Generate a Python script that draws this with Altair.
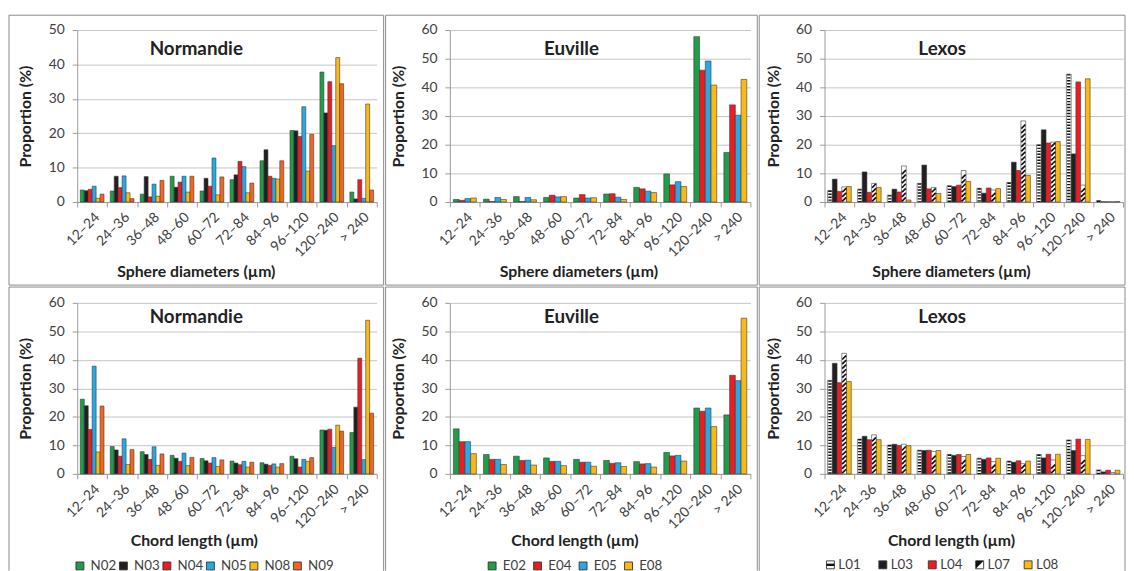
import altair as alt
import numpy as np
import pandas as pd

# ---------------- data ----------------
categories = ["12–24", "24–36", "36–48", "48–60", "60–72", "72–84",
              "84–96", "96–120", "120–240", "> 240"]

n_series = ["N02", "N03", "N04", "N05", "N08", "N09"]
e_series = ["E02", "E04", "E05", "E08"]
l_series = ["L01", "L03", "L04", "L07", "L08"]

n_colors = ["#1e9e48", "#231f20", "#ed1c24", "#27a9e1", "#fdb913", "#f26522"]
e_colors = ["#1e9e48", "#ed1c24", "#27a9e1", "#fdb913"]
l_colors = ["#ffffff", "#231f20", "#ed1c24", "#ffffff", "#fdb913"]

y_ticks_50 = [0, 10, 20, 30, 40, 50]
y_ticks_60 = [0, 10, 20, 30, 40, 50, 60]

# Sphere diameters - Normandie
sph_N02 = [3.5, 3.2, 2.3, 7.5, 3.2, 6.5, 12.0, 20.8, 37.8, 2.9]
sph_N03 = [3.3, 7.5, 7.4, 4.3, 6.9, 7.9, 15.2, 20.7, 25.9, 0.9]
sph_N04 = [3.7, 4.2, 1.5, 5.8, 4.6, 11.8, 7.5, 19.1, 35.0, 6.5]
sph_N05 = [4.6, 7.6, 5.2, 7.5, 12.8, 10.3, 6.9, 27.7, 16.4, 1.1]
sph_N08 = [1.1, 2.7, 1.7, 2.9, 2.1, 2.7, 6.7, 9.0, 42.0, 28.5]
sph_N09 = [2.3, 1.0, 6.3, 7.5, 7.3, 5.5, 12.0, 19.7, 34.4, 3.5]

# Sphere diameters - Euville
sph_E02 = [0.9, 1.0, 1.9, 1.6, 1.4, 2.8, 5.1, 9.8, 57.7, 17.3]
sph_E04 = [0.6, 0.2, 0.2, 2.4, 2.6, 2.9, 4.6, 6.0, 46.0, 33.9]
sph_E05 = [1.2, 1.6, 1.6, 1.8, 1.4, 1.7, 3.8, 7.1, 49.2, 30.3]
sph_E08 = [1.4, 0.9, 0.8, 1.9, 1.5, 0.9, 3.3, 5.4, 40.8, 42.8]

# Sphere diameters - Lexos
sph_L01 = [4.0, 4.5, 2.4, 6.5, 5.7, 4.8, 6.8, 20.0, 44.6, 0.5]
sph_L03 = [8.0, 10.5, 4.5, 12.9, 5.4, 3.1, 13.9, 25.2, 16.8, 0.1]
sph_L04 = [3.7, 3.4, 3.5, 4.6, 5.9, 4.9, 11.0, 20.6, 41.9, 0.1]
sph_L07 = [5.3, 6.5, 12.6, 5.1, 11.0, 4.2, 28.3, 20.9, 5.9, 0.1]
sph_L08 = [5.4, 5.1, 0.7, 3.0, 7.2, 4.7, 9.3, 21.1, 43.0, 0.2]

# Chord length - Normandie
chd_N02 = [26.2, 9.6, 7.8, 6.5, 5.4, 4.5, 3.9, 6.2, 15.4, 14.5]
chd_N03 = [23.9, 8.4, 6.8, 5.5, 4.6, 3.8, 3.4, 5.3, 15.3, 23.4]
chd_N04 = [15.6, 6.2, 5.1, 4.4, 3.8, 3.2, 3.0, 2.4, 15.7, 40.6]
chd_N05 = [37.8, 12.3, 9.5, 7.3, 5.7, 4.4, 3.5, 5.1, 9.3, 5.0]
chd_N08 = [7.7, 3.3, 3.0, 2.9, 2.6, 2.4, 2.4, 4.4, 17.1, 53.9]
chd_N09 = [23.8, 8.5, 7.0, 5.8, 4.9, 4.1, 3.6, 5.7, 15.0, 21.3]

# Chord length - Euville
chd_E02 = [15.8, 6.8, 6.2, 5.6, 5.1, 4.7, 4.3, 7.5, 23.1, 20.7]
chd_E04 = [11.3, 5.1, 4.7, 4.4, 4.1, 3.7, 3.5, 6.3, 22.0, 34.6]
chd_E05 = [11.3, 5.1, 4.8, 4.4, 4.1, 3.9, 3.6, 6.5, 23.1, 32.7]
chd_E08 = [7.1, 3.3, 3.1, 2.9, 2.7, 2.6, 2.4, 4.5, 16.6, 54.6]

# Chord length - Lexos
chd_L01 = [32.8, 12.2, 10.1, 8.3, 6.8, 5.5, 4.5, 6.8, 11.9, 1.4]
chd_L03 = [38.8, 13.2, 10.4, 8.2, 6.5, 5.1, 4.1, 5.6, 8.2, 0.7]
chd_L04 = [32.0, 12.0, 10.0, 8.3, 6.8, 5.6, 4.6, 6.9, 12.2, 1.3]
chd_L07 = [42.3, 13.7, 10.4, 7.9, 6.1, 4.3, 3.6, 4.9, 6.4, 0.5]
chd_L08 = [32.4, 12.0, 9.9, 8.2, 6.8, 5.5, 4.5, 6.9, 12.1, 1.3]

# ---------------- style ----------------
FONT = "Lato"
GRID = "#c4c4c4"
AXIS = "#9a9a9a"
LABEL = "#404040"
TITLE = "#222222"
FRAME = "#8a8a8a"
BAR_STROKE = "#3a3a3a"

COLS = [
    dict(W=303, L=69, R=7, xt=[120, 118], legx=-4, colpad=0),
    dict(W=304, L=65, R=7, xt=[130, 126], legx=36, colpad=5),
    dict(W=302, L=66, R=2, xt=[128, 128], legx=2, colpad=14),
]
ROWS = [
    dict(H=174, T=15, B=84, ty=19, xty=70),
    dict(H=173, T=16, B=98, ty=14, xty=67),
]

# pattern-legend layout for the Lexos panel (symbol centres, px from plot left)
LEX_LEG_X = [6, 59, 109, 157, 206]
LEX_LEG_Y = 265
SQUARE = "M-1,-1H1V1H-1Z"
L01_BAND = "M-1,-0.3H1V0.3H-1Z"
L07_TRI = "M-1,-1H1L-1,1Z"


def panel(ci, ri, title, xtitle, series, colors, lists, ymax, yticks, po,
          legend=False, patterns=False):
    c, r = COLS[ci], ROWS[ri]
    W, H = c["W"], r["H"]
    df = pd.DataFrame({
        "cat": np.tile(categories, len(series)),
        "series": np.repeat(series, len(categories)),
        "v": np.concatenate([np.asarray(x, dtype=float) for x in lists]),
    })
    band = W / len(categories)
    bw = band / (len(series) + 2 * po)

    xenc = alt.X("cat:N", sort=categories,
                 scale=alt.Scale(domain=categories, paddingInner=0, paddingOuter=0),
                 axis=alt.Axis(title=xtitle, labelAngle=315, tickBand="extent",
                               labelOverlap=False, labelPadding=3, grid=False,
                               titleX=c["xt"][ri], titleY=r["xty"],
                               titleBaseline="middle"))
    xoff = alt.XOffset("series:N", sort=series,
                       scale=alt.Scale(domain=series, paddingInner=0, paddingOuter=po))
    yenc = alt.Y("v:Q", scale=alt.Scale(domain=[0, ymax], nice=False),
                 axis=alt.Axis(title="Proportion (%)", values=yticks, grid=True,
                               labelPadding=8, titleX=-44))

    leg = None
    if legend and not patterns:
        leg = alt.Legend(orient="none", legendX=c["legx"], legendY=259,
                         direction="horizontal", title=None, symbolType="square",
                         symbolSize=64, symbolStrokeColor="#333333",
                         symbolStrokeWidth=0.9, symbolOpacity=1,
                         labelFont=FONT, labelFontSize=13.5, labelColor=LABEL,
                         columnPadding=c["colpad"], labelOffset=4, padding=0)

    color_scale = alt.Scale(domain=series, range=colors)
    bars = alt.Chart(df).mark_bar(stroke=BAR_STROKE, strokeWidth=0.6).encode(
        x=xenc, xOffset=xoff, y=yenc,
        color=alt.Color("series:N", scale=color_scale, legend=leg))

    layers = []
    one = pd.DataFrame({"t": [title]})
    T, B, R, L = r["T"], r["B"], c["R"], c["L"]
    if ri == 0:
        layers.append(alt.Chart(one).mark_rect(fillOpacity=0, stroke=FRAME, strokeWidth=1).encode(
            x=alt.value(-L), x2=alt.value(W + R), y=alt.value(-T), y2=alt.value(H + B)))
    else:
        layers.append(alt.Chart(one).mark_rule(color=FRAME, strokeWidth=1).encode(
            x=alt.value(-L), x2=alt.value(W + R), y=alt.value(-T)))
        layers.append(alt.Chart(one).mark_rule(color=FRAME, strokeWidth=1).encode(
            x=alt.value(-L), y=alt.value(-T), y2=alt.value(H + B)))
        layers.append(alt.Chart(one).mark_rule(color=FRAME, strokeWidth=1).encode(
            x=alt.value(W + R), y=alt.value(-T), y2=alt.value(H + B)))

    layers.append(bars)

    if patterns:
        d01 = df[df.series == "L01"]
        layers.append(alt.Chart(d01).mark_rule(
            color="#111111", strokeWidth=bw - 1.4, strokeDash=[1.4, 1.6]).encode(
            x=xenc, xOffset=xoff, y=yenc, y2=alt.datum(0)))
        d07 = df[df.series == "L07"]
        unit = ymax / H
        half = (bw / 2) * unit
        step = 4.6 * unit
        rows_ = []
        for cat, v in zip(d07.cat, d07.v):
            for yc in np.arange(half + 0.1, v - half + 0.05, step):
                rows_.append({"cat": cat, "series": "L07", "v": yc})
        dsl = pd.DataFrame(rows_)
        layers.append(alt.Chart(dsl).mark_point(
            shape="M-1,1L1,-1", size=(bw - 0.8) ** 2, filled=False,
            stroke="#111111", strokeWidth=1.7, opacity=1, strokeCap="butt").encode(
            x=xenc, xOffset=xoff, y=yenc))
        if legend:
            for name, col, px in zip(series, colors, LEX_LEG_X):
                lone = pd.DataFrame({"s": [name]})
                layers.append(alt.Chart(lone).mark_point(
                    shape=SQUARE, size=64, filled=True, fill=col, opacity=1,
                    stroke="#333333", strokeWidth=0.9).encode(
                    x=alt.value(px), y=alt.value(LEX_LEG_Y)))
                if name == "L01":
                    layers.append(alt.Chart(lone).mark_point(
                        shape=L01_BAND, size=64, filled=True, fill="#111111",
                        opacity=1, strokeWidth=0).encode(
                        x=alt.value(px), y=alt.value(LEX_LEG_Y)))
                if name == "L07":
                    layers.append(alt.Chart(lone).mark_point(
                        shape=L07_TRI, size=64, filled=True, fill="#111111",
                        opacity=1, strokeWidth=0).encode(
                        x=alt.value(px), y=alt.value(LEX_LEG_Y)))
                layers.append(alt.Chart(lone).mark_text(
                    font=FONT, fontSize=13.5, color=LABEL, align="left",
                    baseline="middle").encode(
                    x=alt.value(px + 8), y=alt.value(LEX_LEG_Y), text="s:N"))

    cx = (-L + W + R) / 2
    layers.append(alt.Chart(one).mark_text(
        font=FONT, fontSize=19, fontWeight="bold", color=TITLE,
        align="center", baseline="middle").encode(
        x=alt.value(cx), y=alt.value(r["ty"]), text="t:N"))

    return alt.layer(*layers).properties(width=W, height=H)


p1 = panel(0, 0, "Normandie", "Sphere diameters (µm)", n_series, n_colors,
           [sph_N02, sph_N03, sph_N04, sph_N05, sph_N08, sph_N09], 50, y_ticks_50, 0.79)
p2 = panel(1, 0, "Euville", "Sphere diameters (µm)", e_series, e_colors,
           [sph_E02, sph_E04, sph_E05, sph_E08], 60, y_ticks_60, 0.62)
p3 = panel(2, 0, "Lexos", "Sphere diameters (µm)", l_series, l_colors,
           [sph_L01, sph_L03, sph_L04, sph_L07, sph_L08], 60, y_ticks_60, 0.65,
           patterns=True)
p4 = panel(0, 1, "Normandie", "Chord length (µm)", n_series, n_colors,
           [chd_N02, chd_N03, chd_N04, chd_N05, chd_N08, chd_N09], 60, y_ticks_60, 0.79,
           legend=True)
p5 = panel(1, 1, "Euville", "Chord length (µm)", e_series, e_colors,
           [chd_E02, chd_E04, chd_E05, chd_E08], 60, y_ticks_60, 0.62, legend=True)
p6 = panel(2, 1, "Lexos", "Chord length (µm)", l_series, l_colors,
           [chd_L01, chd_L03, chd_L04, chd_L07, chd_L08], 60, y_ticks_60, 0.65,
           legend=True, patterns=True)

res = dict(color="independent", xOffset="independent")
row1 = alt.hconcat(p1, p2, p3, spacing=0).resolve_scale(**res)
row2 = alt.hconcat(p4, p5, p6, spacing=0).resolve_scale(**res)

chart = alt.vconcat(row1, row2, spacing=0).resolve_scale(**res).properties(
    padding={"left": 0, "top": 3, "right": 0, "bottom": 0}
).configure_view(strokeOpacity=0).configure_axis(
    labelFont=FONT, titleFont=FONT, labelFontSize=14, titleFontSize=16,
    labelColor=LABEL, titleColor=TITLE, titleFontWeight="bold",
    domainColor=AXIS, tickColor=AXIS, gridColor=GRID, tickSize=5,
    domainWidth=1, tickWidth=1, gridWidth=1
)

chart.save("out.html", embed_options={"renderer": "svg", "actions": False})
